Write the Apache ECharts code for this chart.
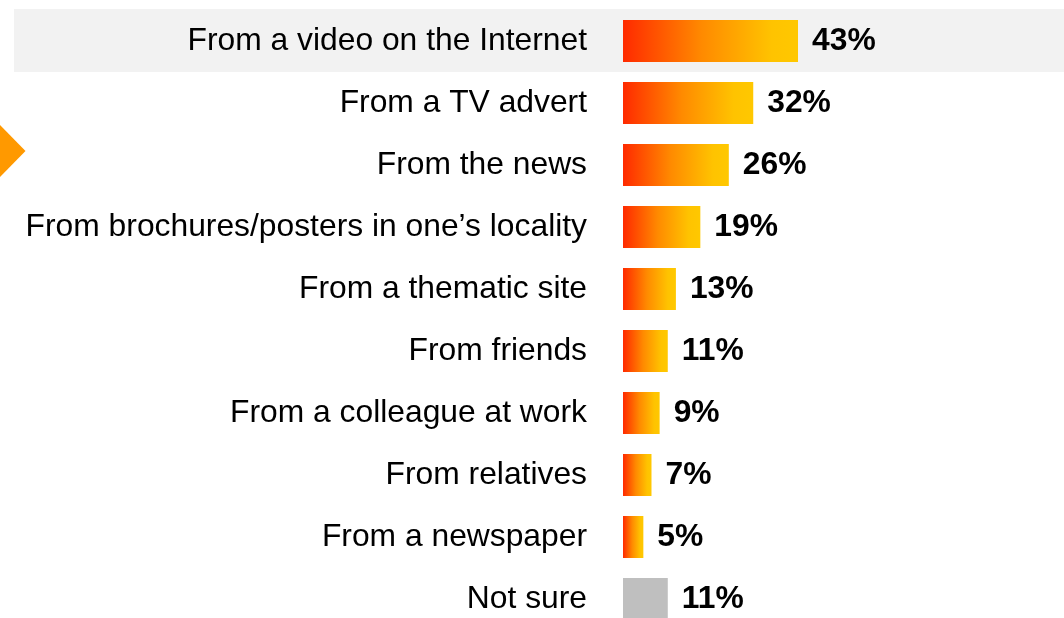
<!DOCTYPE html>
<html>
<head>
<meta charset="utf-8">
<script src="https://cdn.jsdelivr.net/npm/echarts@6/dist/echarts.min.js"></script>
<style>
  html, body { margin: 0; padding: 0; background: #fff; }
  #chart { width: 1064px; height: 618px; }
</style>
</head>
<body>
<div id="chart"></div>
<script>
// Where respondents heard about it (share of respondents, %)
const categories = [
  'From a video on the Internet',
  'From a TV advert',
  'From the news',
  'From brochures/posters in one\u2019s locality',
  'From a thematic site',
  'From friends',
  'From a colleague at work',
  'From relatives',
  'From a newspaper',
  'Not sure'
];
const values = [43, 32, 26, 19, 13, 11, 9, 7, 5, 11];
const neutralCategory = 'Not sure';

const FONT = '"Liberation Sans", Arial, sans-serif';
const FS = 31.8;

const warmGradient = new echarts.graphic.LinearGradient(0, 0, 1, 0, [
  { offset: 0, color: '#FF2A00' },
  { offset: 0.45, color: '#FF8A00' },
  { offset: 0.85, color: '#FFC300' },
  { offset: 1, color: '#FFC800' }
]);

const seriesData = categories.map((c, i) => ({
  value: values[i],
  itemStyle: { color: c === neutralCategory ? '#BFBFBF' : warmGradient }
}));

const chart = echarts.init(document.getElementById('chart'), null, { renderer: 'canvas' });
chart.setOption({
  animation: false,
  backgroundColor: '#ffffff',
  grid: {
    left: 623, top: 10, width: 407, height: 620,
    containLabel: false, outerBoundsMode: 'none'
  },
  xAxis: {
    type: 'value', min: 0, max: 100, show: false
  },
  yAxis: {
    type: 'category',
    data: categories,
    inverse: true,
    axisLine: { show: false },
    axisTick: { show: false },
    splitLine: { show: false },
    axisLabel: {
      margin: 36,
      color: '#000000',
      fontFamily: FONT,
      fontSize: FS
    }
  },
  graphic: [
    {
      // highlight band behind the top row
      type: 'rect', z: -10, silent: true,
      shape: { x: 14, y: 9, width: 1064, height: 63 },
      style: { fill: '#F2F2F2' }
    },
    {
      type: 'polygon', silent: true,
      shape: { points: [[0, 125], [25.5, 151], [0, 177]] },
      style: { fill: '#FF9900' }
    }
  ],
  series: [{
    type: 'bar',
    data: seriesData,
    barWidth: 42,
    label: {
      show: true,
      position: 'right',
      distance: 14,
      formatter: p => p.value + '%',
      color: '#000000',
      fontFamily: FONT,
      fontWeight: 'bold',
      fontSize: FS
    }
  }]
});
</script>
</body>
</html>
